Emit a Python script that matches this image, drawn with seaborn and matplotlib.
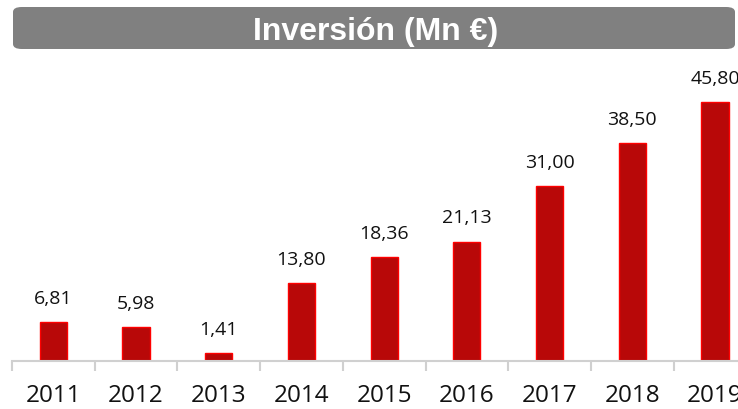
import matplotlib.pyplot as plt
import seaborn as sns
from matplotlib.patches import FancyBboxPatch

# datos
years = ['2011', '2012', '2013', '2014', '2015', '2016', '2017', '2018', '2019']
inversion = [6.81, 5.98, 1.41, 13.80, 18.36, 21.13, 31.00, 38.50, 45.80]
labels = ['6,81', '5,98', '1,41', '13,80', '18,36', '21,13', '31,00', '38,50', '45,80']

W, H = 738, 409
fig = plt.figure(figsize=(W / 100, H / 100), dpi=100)

# ejes: base en y=361 px, 82.7 px por categoria (la ultima queda cortada, como en el original)
ax = fig.add_axes([12 / W, (H - 361) / H, 9 * 82.7 / W, 301 / H])
sns.barplot(x=years, y=inversion, ax=ax, color='#B80808', width=0.33,
            saturation=1, edgecolor='#FF0000', linewidth=1)
ax.set_xlim(-0.5, 8.5)
ax.set_ylim(0, 301 / 5.655)

for i, (v, lab) in enumerate(zip(inversion, labels)):
    ax.annotate(lab, (i, v), xytext=(0, 13), textcoords='offset points',
                ha='center', va='baseline', fontsize=14, family='Open Sans',
                color='#111111')

for s in ['top', 'right', 'left']:
    ax.spines[s].set_visible(False)
ax.spines['bottom'].set_color('#D0D0D0')
ax.spines['bottom'].set_linewidth(1.5)
ax.set_yticks([])
ax.set_xticks(range(9))
ax.set_xticklabels(years, fontsize=17.5, family='Open Sans', color='#111111')
ax.tick_params(axis='x', which='major', length=0, pad=16.5)
ax.set_xticks([i - 0.5 for i in range(10)], minor=True)
ax.tick_params(axis='x', which='minor', length=7, width=1.5, color='#D0D0D0')

# caja del titulo
box = FancyBboxPatch((13 / W, (H - 49) / H), 722 / W, 42 / H,
                     boxstyle='round,pad=0,rounding_size=0.012',
                     transform=fig.transFigure, facecolor='#808080',
                     edgecolor='none')
fig.patches.append(box)
fig.text(376 / W, (H - 28.5) / H, 'Inversión (Mn €)', ha='center', va='center_baseline',
         fontsize=23, fontweight='bold', family='Liberation Sans', color='white')

plt.savefig('out.png', dpi=100)
